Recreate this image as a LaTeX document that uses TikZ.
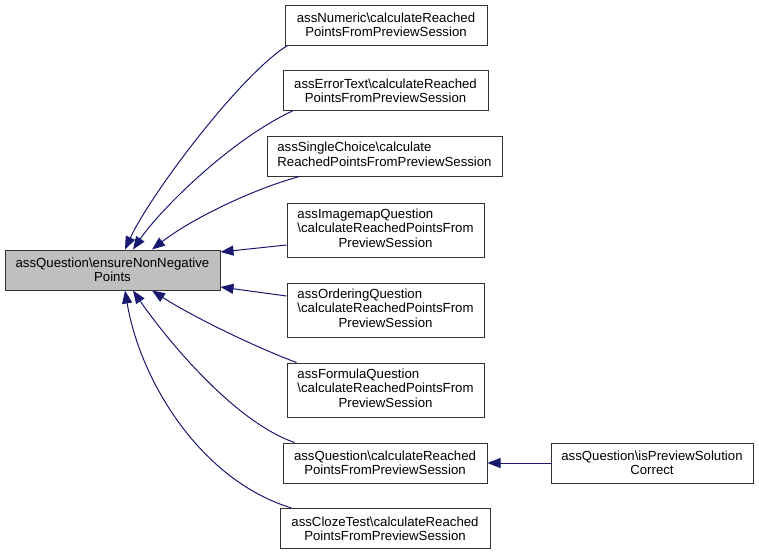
\documentclass[tikz,border=0pt]{standalone}
\usepackage{fontspec}
\setmainfont{Liberation Sans}
\usetikzlibrary{arrows.meta}
\definecolor{navy}{RGB}{25,25,112}
\definecolor{boxgray}{RGB}{191,191,191}
\tikzset{
  box/.style={draw=black!80, line width=1pt, fill=white, inner sep=0pt, align=center,
    font=\fontsize{13.2}{14.3}\selectfont},
  mainbox/.style={box, fill=boxgray},
  edge/.style={draw=navy, line width=1pt, arrows={Triangle[length=13pt,width=10pt]-}}
}
\begin{document}
\begin{tikzpicture}[x=1pt,y=-1pt]
\useasboundingbox (0,0) rectangle (759,555);
\node[mainbox, minimum width=215pt, minimum height=40pt] (main) at (112.5,270)
  {assQuestion\textbackslash ensureNonNegative\\Points};
\node[box, minimum width=202pt, minimum height=40pt] (num) at (386,25)
  {assNumeric\textbackslash calculateReached\\PointsFromPreviewSession};
\node[box, minimum width=205pt, minimum height=40pt] (err) at (385.5,90.5)
  {assErrorText\textbackslash calculateReached\\PointsFromPreviewSession};
\node[box, minimum width=235pt, minimum height=40pt] (single) at (384.5,156)
  {\begin{tabular}{@{}c@{}}\multicolumn{1}{@{}l@{}}{assSingleChoice\textbackslash calculate}\\ReachedPointsFromPreviewSession\end{tabular}};
\node[box, minimum width=197pt, minimum height=54pt] (img) at (385.5,230)
  {\begin{tabular}{@{}c@{}}\multicolumn{1}{@{}l@{}}{assImagemapQuestion}\\\textbackslash calculateReachedPointsFrom\\PreviewSession\end{tabular}};
\node[box, minimum width=197pt, minimum height=54pt] (ord) at (385.5,310)
  {\begin{tabular}{@{}c@{}}\multicolumn{1}{@{}l@{}}{assOrderingQuestion}\\\textbackslash calculateReachedPointsFrom\\PreviewSession\end{tabular}};
\node[box, minimum width=197pt, minimum height=54pt] (form) at (385.5,390)
  {\begin{tabular}{@{}c@{}}\multicolumn{1}{@{}l@{}}{assFormulaQuestion}\\\textbackslash calculateReachedPointsFrom\\PreviewSession\end{tabular}};
\node[box, minimum width=204pt, minimum height=40pt] (qcalc) at (385,463)
  {assQuestion\textbackslash calculateReached\\PointsFromPreviewSession};
\node[box, minimum width=202pt, minimum height=40pt] (prev) at (652,463)
  {assQuestion\textbackslash isPreviewSolution\\Correct};
\node[box, minimum width=210pt, minimum height=40pt] (cloze) at (385,528.5)
  {assClozeTest\textbackslash calculateReached\\PointsFromPreviewSession};

\draw[edge] ([xshift=12.5pt]main.north) .. controls (150,195) and (240,75) .. ([xshift=3pt]num.south west);
\draw[edge] ([xshift=20.5pt]main.north) .. controls (160,210) and (230,140) .. ([xshift=10pt]err.south west);
\draw[edge] ([xshift=39.5pt]main.north) .. controls (190,220) and (250,190) .. ([xshift=33pt]single.south west);
\draw[edge] ([yshift=18pt]main.east) -- ([yshift=-15pt]img.west);
\draw[edge] ([yshift=-17pt]main.east) -- ([yshift=14pt]ord.west);
\draw[edge] ([xshift=39.5pt]main.south) .. controls (190,315) and (250,345) .. ([xshift=10pt]form.north west);
\draw[edge] ([xshift=20.5pt]main.south) .. controls (160,330) and (230,420) .. ([xshift=12pt]qcalc.north west);
\draw[edge] ([xshift=12.5pt]main.south) .. controls (140,380) and (200,480) .. ([xshift=12pt]cloze.north west);
\draw[edge] (qcalc.east) -- (prev.west);
\end{tikzpicture}
\end{document}
